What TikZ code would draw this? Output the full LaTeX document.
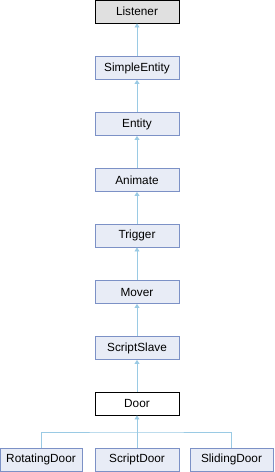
\documentclass[tikz,border=0pt]{standalone}
\usepackage{fontspec}
\setmainfont{Liberation Sans}
\usepackage{xcolor}
\usetikzlibrary{arrows.meta,positioning}
\definecolor{DoxFill}{HTML}{E8ECF6}
\definecolor{DoxBorder}{HTML}{7C91C6}
\definecolor{DoxEdge}{HTML}{9ACAE4}
\definecolor{DoxRoot}{HTML}{E0E0E0}

\begin{document}
\begin{tikzpicture}[
  x=1pt,y=-1pt,
  cls/.style={draw=DoxBorder,fill=DoxFill,line width=0.9pt,
    minimum width=84pt,minimum height=23pt,inner sep=0pt,font=\fontsize{11.8}{13}\selectfont},
  rootcls/.style={cls,draw=black,fill=DoxRoot},
  curcls/.style={cls,draw=black,fill=white},
  edge/.style={-{Triangle[length=4pt,width=5pt]},line width=0.9pt,color=DoxEdge}
]
  \useasboundingbox (0,0) rectangle (275,472);

  \node[rootcls] (listener) at (137,11.5) {Listener};
  \node[cls] (simpleentity) at (137,68) {SimpleEntity};
  \node[cls] (entity) at (137,124) {Entity};
  \node[cls] (animate) at (137,180) {Animate};
  \node[cls] (trigger) at (137,235.5) {Trigger};
  \node[cls] (mover) at (137,292) {Mover};
  \node[cls] (scriptslave) at (137,348) {ScriptSlave};
  \node[curcls] (door) at (137,403.5) {Door};

  \node[cls,minimum width=82pt] (rotatingdoor) at (41,459.5) {RotatingDoor};
  \node[cls] (scriptdoor) at (137,459.5) {ScriptDoor};
  \node[cls,minimum width=83pt] (slidingdoor) at (231.5,459.5) {SlidingDoor};

  \coordinate (fork) at (137,432);

  \draw[edge] (simpleentity) -- (listener);
  \draw[edge] (entity) -- (simpleentity);
  \draw[edge] (animate) -- (entity);
  \draw[edge] (trigger) -- (animate);
  \draw[edge] (mover) -- (trigger);
  \draw[edge] (scriptslave) -- (mover);
  \draw[edge] (door) -- (scriptslave);
  \draw[edge] (scriptdoor) -- (door);
  \draw[line width=0.9pt,color=DoxEdge] (rotatingdoor.north) |- (fork) -| (slidingdoor.north);
\end{tikzpicture}
\end{document}
